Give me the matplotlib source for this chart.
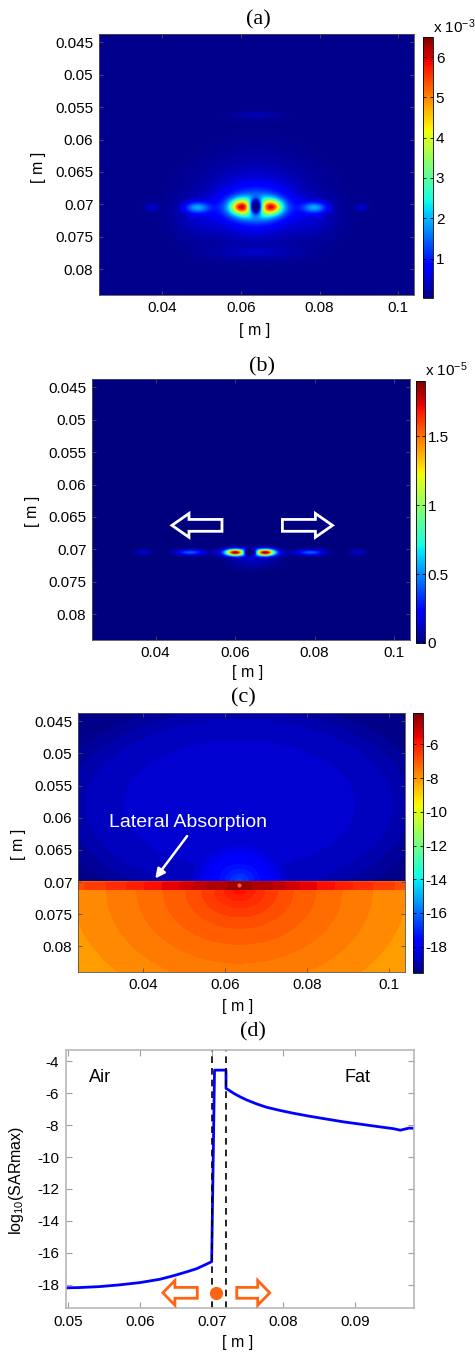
import numpy as np
import matplotlib
matplotlib.use("Agg")
from matplotlib import pyplot as plt
from matplotlib.patches import FancyArrow
from matplotlib.cm import ScalarMappable
from matplotlib.colors import Normalize

plt.rcParams['font.family'] = ['Liberation Sans', 'DejaVu Sans']
plt.rcParams['mathtext.default'] = 'regular'
plt.rcParams['axes.unicode_minus'] = False

# ---------------- data ----------------
# field extent [m]
x_lim = [0.024, 0.104]
y_lim = [0.0437, 0.0840]
map_xticks = [0.04, 0.06, 0.08, 0.1]
map_xlabels = ['0.04', '0.06', '0.08', '0.1']
map_yticks = [0.045, 0.05, 0.055, 0.06, 0.065, 0.07, 0.075, 0.08]
map_ylabels = ['0.045', '0.05', '0.055', '0.06', '0.065', '0.07', '0.075', '0.08']

# (a) hot spots, SAR in units of 1e-3
a_bx = [0.0599, 0.0680, 0.0638, 0.0638, 0.0638, 0.0638, 0.0489, 0.0788, 0.0373, 0.0907, 0.0489, 0.0788, 0.0640, 0.0638]
a_by = [0.0704, 0.0704, 0.0705, 0.0705, 0.0695, 0.0704, 0.0705, 0.0705, 0.0705, 0.0705, 0.0722, 0.0722, 0.0562, 0.0775]
a_amp = [2.8, 2.8, 3.0, 1.0, 0.5, -6.0, 1.5, 1.5, 0.4, 0.4, 0.25, 0.25, 0.3, 0.25]
a_sx = [0.0016, 0.0016, 0.0042, 0.006, 0.009, 0.0012, 0.0022, 0.0022, 0.0012, 0.0012, 0.004, 0.004, 0.004, 0.008]
a_sy = [0.0007, 0.0007, 0.0011, 0.0022, 0.0042, 0.0008, 0.0006, 0.0006, 0.0004, 0.0004, 0.002, 0.002, 0.0003, 0.0006]
a_clim = [0.02, 6.5]
a_ticks = [1, 2, 3, 4, 5, 6]

# (b) hot spots, SAR in units of 1e-5
b_bx = [0.0598, 0.0678, 0.0638, 0.0638, 0.0487, 0.0790, 0.0368, 0.0909, 0.0645]
b_by = [0.0705, 0.0705, 0.0705, 0.0705, 0.0705, 0.0705, 0.0705, 0.0705, 0.0718]
b_amp = [1.35, 1.35, 0.9, -1.8, 0.42, 0.42, 0.14, 0.14, 0.1]
b_sx = [0.0015, 0.0015, 0.0040, 0.0011, 0.0024, 0.0024, 0.0014, 0.0014, 0.004]
b_sy = [0.00035, 0.00035, 0.00038, 0.0003, 0.0003, 0.0003, 0.0003, 0.0003, 0.0008]
b_clim = [0.0, 1.9]
b_ticks = [0, 0.5, 1, 1.5]
b_tick_labels = ['0', '0.5', '1', '1.5']

# (d) log10(SARmax) along the line through the source
air_y = [0.0497, 0.0516, 0.0544, 0.0572, 0.0600, 0.0628, 0.0646, 0.0665, 0.0679, 0.0693, 0.0700]
air_val = [-18.19, -18.17, -18.11, -18.0, -17.86, -17.65, -17.44, -17.19, -16.99, -16.7, -16.55]
peak_y = [0.0704, 0.0720]
peak_val = [-4.56, -4.56]
fat_y = [0.0720, 0.0731, 0.0740, 0.0749, 0.0763, 0.0777, 0.0796, 0.0814, 0.0837, 0.0861,
         0.0884, 0.0907, 0.0931, 0.0954, 0.0963, 0.0975, 0.0982]
fat_val = [-5.7, -6.02, -6.24, -6.43, -6.68, -6.89, -7.09, -7.26, -7.45, -7.63,
           -7.80, -7.94, -8.09, -8.23, -8.32, -8.19, -8.2]
d_layer = [0.0700, 0.0720]
d_xticks = [0.05, 0.06, 0.07, 0.08, 0.09]
d_xlabels = ['0.05', '0.06', '0.07', '0.08', '0.09']
d_yticks = [-4, -6, -8, -10, -12, -14, -16, -18]

# (c) log10 SAR map
c_clim = [-19.56, -4.14]
c_ticks = [-6, -8, -10, -12, -14, -16, -18]
src_x = 0.0635
interface_y = [0.0700, 0.0712]
air_near_r = [0, 0.002, 0.004, 0.006, 0.009]
air_near_v = [-16.6, -17.3, -17.9, -18.4, -19.5]
air_far_q = [0, 1.0, 1.4, 2.0]
air_far_v = [-18.3, -18.6, -19.4, -19.6]
strip_dx = [0, 0.008, 0.016, 0.03, 0.045]
strip_v = [-4.5, -4.9, -5.5, -6.3, -7.0]
fat_tail_r = 0.034
fat_tail_v = -9.2

# ---------------- figure ----------------
W, H = 475, 1354
fig = plt.figure(figsize=(W / 100, H / 100), dpi=100)


def box(l, t, r, b):
    return [l / W, 1 - b / H, (r - l) / W, (b - t) / H]


def ftext(x, y, s, **kw):
    fig.text(x / W, 1 - y / H, s, **kw)


xg = np.linspace(x_lim[0], x_lim[1], 801)
yg = np.linspace(y_lim[0], y_lim[1], 404)
X, Y = np.meshgrid(xg, yg)


def blobs(bx, by, amp, sx, sy):
    Z = np.zeros_like(X)
    for i in range(len(bx)):
        Z += amp[i] * np.exp(-((X - bx[i]) ** 2 / (2 * sx[i] ** 2) + (Y - by[i]) ** 2 / (2 * sy[i] ** 2)))
    return Z


def style_map(ax):
    ax.set_xlim(x_lim)
    ax.set_ylim(y_lim[1], y_lim[0])
    ax.set_xticks(map_xticks)
    ax.set_xticklabels(map_xlabels)
    ax.set_yticks(map_yticks)
    ax.set_yticklabels(map_ylabels)
    ax.tick_params(direction='in', length=3, width=0.6, color='#505050', labelsize=11,
                   top=True, right=True, pad=4)
    for s in ax.spines.values():
        s.set_linewidth(0.6)
        s.set_color('#505050')


def style_cbar(cax, ticks, labels=None):
    cax.set_yticks(ticks)
    if labels is not None:
        cax.set_yticklabels(labels)
    cax.tick_params(direction='in', length=2.5, width=0.6, labelsize=11, pad=2, left=True, right=True)
    for s in cax.spines.values():
        s.set_linewidth(0.6)


# row 0 of the grids is the top of the map (y axis points down)
ext = [x_lim[0], x_lim[1], y_lim[1], y_lim[0]]

# (a)
ax = fig.add_axes(box(99, 34, 414, 295))
Za = np.clip(blobs(a_bx, a_by, a_amp, a_sx, a_sy) + 0.1, 0, None)
im = ax.imshow(Za, extent=ext, origin='upper', cmap='jet', vmin=a_clim[0], vmax=a_clim[1],
               aspect='auto', interpolation='bilinear')
style_map(ax)
cax = fig.add_axes(box(423, 37, 433, 298))
fig.colorbar(im, cax=cax)
style_cbar(cax, a_ticks)
ftext(258, 20, '(a)', family='Liberation Serif', fontsize=16, ha='center', va='center')
ftext(433, 27, r'x 10$^{-3}$', fontsize=11, ha='left', va='center')
ftext(39, 167, '[ m ]', fontsize=11.5, rotation=90, ha='center', va='center')
ftext(255, 330, '[ m ]', fontsize=11.5, ha='center', va='center')

# (b)
ax = fig.add_axes(box(92, 379, 410, 640))
Zb = np.clip(blobs(b_bx, b_by, b_amp, b_sx, b_sy), 0, None)
im = ax.imshow(Zb, extent=ext, origin='upper', cmap='jet', vmin=b_clim[0], vmax=b_clim[1],
               aspect='auto', interpolation='bilinear')
style_map(ax)
for tail, head in [(0.0567, 0.0441), (0.0719, 0.0845)]:
    ax.add_patch(FancyArrow(tail, 0.0663, head - tail, 0, width=0.00183, head_width=0.00367,
                            head_length=0.0043, length_includes_head=True,
                            fc='none', ec='white', lw=2))
cax = fig.add_axes(box(416, 381, 425, 643))
fig.colorbar(im, cax=cax)
style_cbar(cax, b_ticks, b_tick_labels)
ftext(262, 367, '(b)', family='Liberation Serif', fontsize=16, ha='center', va='center')
ftext(425, 370, r'x 10$^{-5}$', fontsize=11, ha='left', va='center')
ftext(32, 511, '[ m ]', fontsize=11.5, rotation=90, ha='center', va='center')
ftext(248, 673, '[ m ]', fontsize=11.5, ha='center', va='center')

# (c)
ax = fig.add_axes(box(78, 713, 405, 972))
r1 = np.sqrt(((X - src_x) / 1.8) ** 2 + (Y - interface_y[0]) ** 2)
near = np.interp(r1, air_near_r, air_near_v)
q = np.sqrt(((X - src_x) / 0.034) ** 2 + ((Y - 0.058) / 0.012) ** 2)
far = np.interp(q, air_far_q, air_far_v)
air = np.maximum(near, far)
fat_r = list(np.array(fat_y) - d_layer[1]) + [fat_tail_r]
fat_v = fat_val + [fat_tail_v]
r2 = np.sqrt(((X - src_x) / 2.2) ** 2 + (Y - interface_y[1]) ** 2)
fat = np.interp(r2, fat_r, fat_v)
strip = np.interp(np.abs(X - src_x), strip_dx, strip_v)
Zc = np.where(Y < interface_y[0], air, np.where(Y < interface_y[1], strip, fat))
levels = np.linspace(c_clim[0], c_clim[1], 62)
ax.contourf(X, Y, Zc, levels=levels, cmap='jet', vmin=c_clim[0], vmax=c_clim[1], extend='both')
ax.plot([src_x], [0.0705], marker='o', ms=3, mfc='#ff5a30', mec='none')
style_map(ax)
ax.annotate('', xy=(0.0425, 0.0698), xytext=(0.0511, 0.0625),
            arrowprops=dict(arrowstyle='-|>', color='white', lw=1.8, mutation_scale=14))
ax.text(0.0509, 0.0608, 'Lateral Absorption', color='white', fontsize=14, ha='center', va='center')
cax = fig.add_axes(box(413, 713, 423, 973))
sm = ScalarMappable(norm=Normalize(c_clim[0], c_clim[1]), cmap='jet')
fig.colorbar(sm, cax=cax)
style_cbar(cax, c_ticks)
ftext(243, 698, '(c)', family='Liberation Serif', fontsize=16, ha='center', va='center')
ftext(18, 844, '[ m ]', fontsize=11.5, rotation=90, ha='center', va='center')
ftext(238, 1006, '[ m ]', fontsize=11.5, ha='center', va='center')

# (d)
ax = fig.add_axes(box(66, 1050, 414, 1308))
ax.plot(air_y + peak_y + fat_y, air_val + peak_val + fat_val, color='#0000ff', lw=2)
for xl in d_layer:
    ax.axvline(xl, color='black', ls=(0, (4, 3)), lw=1.2)
ax.set_xlim(0.0497, 0.0982)
ax.set_ylim(-19.45, -3.3)
ax.set_xticks(d_xticks)
ax.set_xticklabels(d_xlabels)
ax.set_yticks(d_yticks)
ax.tick_params(direction='in', length=4, width=0.8, color='#a0a0a0', labelsize=11,
               top=True, right=True, pad=5)
for s in ax.spines.values():
    s.set_color('#b8b8b8')
    s.set_linewidth(1.2)
orange = '#ff6414'
for tail, head in [(0.0680, 0.0632), (0.0735, 0.0781)]:
    ax.add_patch(FancyArrow(tail, -18.5, head - tail, 0, width=0.68, head_width=1.55,
                            head_length=0.00168, length_includes_head=True,
                            fc='white', ec=orange, lw=2, zorder=3))
ax.plot([0.0706], [-18.5], marker='o', ms=9.5, color=orange, mec='none', zorder=3)
ax.text(0.0544, -5.0, 'Air', fontsize=13, ha='center', va='center')
ax.text(0.0903, -5.0, 'Fat', fontsize=13, ha='center', va='center')
ftext(253, 1032, '(d)', family='Liberation Serif', fontsize=16, ha='center', va='center')
ftext(17, 1180, r'log$_{10}$(SARmax)', fontsize=11.5, rotation=90, ha='center', va='center')
ftext(238, 1343, '[ m ]', fontsize=11.5, ha='center', va='center')

fig.savefig('out.png', dpi=100)
